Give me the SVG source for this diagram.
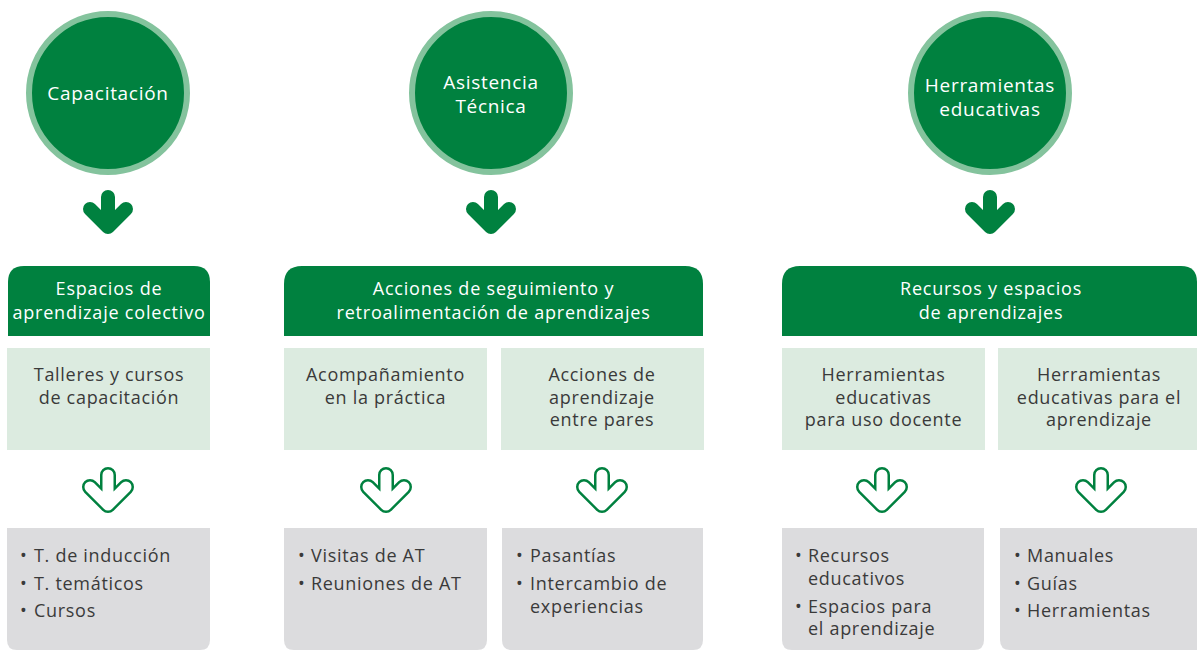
<svg xmlns="http://www.w3.org/2000/svg" width="1197" height="651" viewBox="0 0 1197 651">
<defs>
<style>
.circ{fill:#00813f;stroke:#84c39d;stroke-width:6}
.ctext{font-family:"Open Sans",sans-serif;font-size:19px;letter-spacing:0.7px;fill:#fff;text-anchor:middle}
.head{fill:#00813f}
.htext{font-family:"Open Sans",sans-serif;font-size:18px;letter-spacing:0.8px;fill:#fff;text-anchor:middle}
.sub{fill:#dcebe0}
.stext{font-family:"Open Sans",sans-serif;font-size:18px;letter-spacing:0.7px;fill:#3a3a3a;text-anchor:middle}
.gray{fill:#dcdcde}
.gtext{font-family:"Open Sans",sans-serif;font-size:18px;letter-spacing:0.7px;fill:#3a3a3a}
.solid{fill:none;stroke:#00813f;stroke-width:14;stroke-linecap:round;stroke-linejoin:round}
.hollowO{fill:none;stroke:#00813f;stroke-width:16;stroke-linecap:round;stroke-linejoin:round}
.hollowI{fill:none;stroke:#fff;stroke-width:11;stroke-linecap:round;stroke-linejoin:round}
</style>
<path id="arr" d="M0,7 L0,36 M-18,19 L0,37 L18,19"/>
</defs>

<g id="circle-capacitacion">
<circle class="circ" cx="108" cy="93" r="79"/>
<text class="ctext" x="108" y="100">Capacitación</text>
</g>
<g id="circle-asistencia">
<circle class="circ" cx="491" cy="93" r="79"/>
<text class="ctext" x="491" y="89">Asistencia</text>
<text class="ctext" x="491" y="112.5">Técnica</text>
</g>
<g id="circle-herramientas">
<circle class="circ" cx="990" cy="93" r="79"/>
<text class="ctext" x="990" y="92">Herramientas</text>
<text class="ctext" x="990" y="115.5">educativas</text>
</g>

<g id="connectors">
<use href="#arr" class="solid" transform="translate(108,190)"/>
<use href="#arr" class="solid" transform="translate(491,190)"/>
<use href="#arr" class="solid" transform="translate(990,190)"/>
<use href="#arr" class="hollowO" transform="translate(108,468)"/>
<use href="#arr" class="hollowI" transform="translate(108,468)"/>
<use href="#arr" class="hollowO" transform="translate(386,468)"/>
<use href="#arr" class="hollowI" transform="translate(386,468)"/>
<use href="#arr" class="hollowO" transform="translate(602,468)"/>
<use href="#arr" class="hollowI" transform="translate(602,468)"/>
<use href="#arr" class="hollowO" transform="translate(882,468)"/>
<use href="#arr" class="hollowI" transform="translate(882,468)"/>
<use href="#arr" class="hollowO" transform="translate(1101,468)"/>
<use href="#arr" class="hollowI" transform="translate(1101,468)"/>
</g>

<g id="header-espacios">
<path class="head" d="M8,336 V282 Q8,266 24,266 H194 Q210,266 210,282 V336 Z"/>
<text class="htext" x="109" y="295">Espacios de</text>
<text class="htext" x="109" y="319">aprendizaje colectivo</text>
</g>
<g id="header-acciones">
<path class="head" d="M284,336 V284 Q284,266 302,266 H685 Q703,266 703,284 V336 Z"/>
<text class="htext" x="493.5" y="295">Acciones de seguimiento y</text>
<text class="htext" x="493.5" y="319">retroalimentación de aprendizajes</text>
</g>
<g id="header-recursos">
<path class="head" d="M782,336 V284 Q782,266 800,266 H1181 Q1197,266 1197,282 V336 Z"/>
<text class="htext" x="991" y="295">Recursos y espacios</text>
<text class="htext" x="991" y="319">de aprendizajes</text>
</g>

<g id="sub-talleres">
<rect class="sub" x="7" y="348" width="203" height="102"/>
<text class="stext" x="109" y="381">Talleres y cursos</text>
<text class="stext" x="109" y="403.5">de capacitación</text>
</g>
<g id="sub-acompanamiento">
<rect class="sub" x="284" y="348" width="203" height="102"/>
<text class="stext" x="385.5" y="381">Acompañamiento</text>
<text class="stext" x="385.5" y="403.5">en la práctica</text>
</g>
<g id="sub-pares">
<rect class="sub" x="501" y="348" width="203" height="102"/>
<text class="stext" x="602" y="381">Acciones de</text>
<text class="stext" x="602" y="403.5">aprendizaje</text>
<text class="stext" x="602" y="426">entre pares</text>
</g>
<g id="sub-docente">
<rect class="sub" x="782" y="348" width="203" height="102"/>
<text class="stext" x="883.5" y="381">Herramientas</text>
<text class="stext" x="883.5" y="403.5">educativas</text>
<text class="stext" x="883.5" y="426">para uso docente</text>
</g>
<g id="sub-aprendizaje">
<rect class="sub" x="998" y="348" width="199" height="102"/>
<text class="stext" x="1099" y="381">Herramientas</text>
<text class="stext" x="1099" y="403.5">educativas para el</text>
<text class="stext" x="1099" y="426">aprendizaje</text>
</g>

<g id="list-capacitacion">
<path class="gray" d="M7,528 H210 V640 Q210,650 200,650 H17 Q7,650 7,640 Z"/>
<text class="gtext" x="20" y="562">•</text><text class="gtext" x="34" y="562">T. de inducción</text>
<text class="gtext" x="20" y="590">•</text><text class="gtext" x="34" y="590">T. temáticos</text>
<text class="gtext" x="20" y="617">•</text><text class="gtext" x="34" y="617">Cursos</text>
</g>
<g id="list-visitas">
<path class="gray" d="M284,528 H487 V640 Q487,650 477,650 H294 Q284,650 284,640 Z"/>
<text class="gtext" x="298" y="562">•</text><text class="gtext" x="311" y="562">Visitas de AT</text>
<text class="gtext" x="298" y="590">•</text><text class="gtext" x="311" y="590">Reuniones de AT</text>
</g>
<g id="list-pasantias">
<path class="gray" d="M502,528 H703 V640 Q703,650 693,650 H512 Q502,650 502,640 Z"/>
<text class="gtext" x="516" y="562">•</text><text class="gtext" x="530" y="562">Pasantías</text>
<text class="gtext" x="516" y="590">•</text><text class="gtext" x="530" y="590">Intercambio de</text>
<text class="gtext" x="530" y="612.5">experiencias</text>
</g>
<g id="list-recursos">
<path class="gray" d="M782,528 H984 V640 Q984,650 974,650 H792 Q782,650 782,640 Z"/>
<text class="gtext" x="795" y="562">•</text><text class="gtext" x="808" y="562">Recursos</text>
<text class="gtext" x="808" y="584.5">educativos</text>
<text class="gtext" x="795" y="612.5">•</text><text class="gtext" x="808" y="612.5">Espacios para</text>
<text class="gtext" x="808" y="635">el aprendizaje</text>
</g>
<g id="list-manuales">
<path class="gray" d="M1000,528 H1197 V650 H1010 Q1000,650 1000,640 Z"/>
<text class="gtext" x="1014" y="562">•</text><text class="gtext" x="1027" y="562">Manuales</text>
<text class="gtext" x="1014" y="590">•</text><text class="gtext" x="1027" y="590">Guías</text>
<text class="gtext" x="1014" y="617">•</text><text class="gtext" x="1027" y="617">Herramientas</text>
</g>
</svg>
